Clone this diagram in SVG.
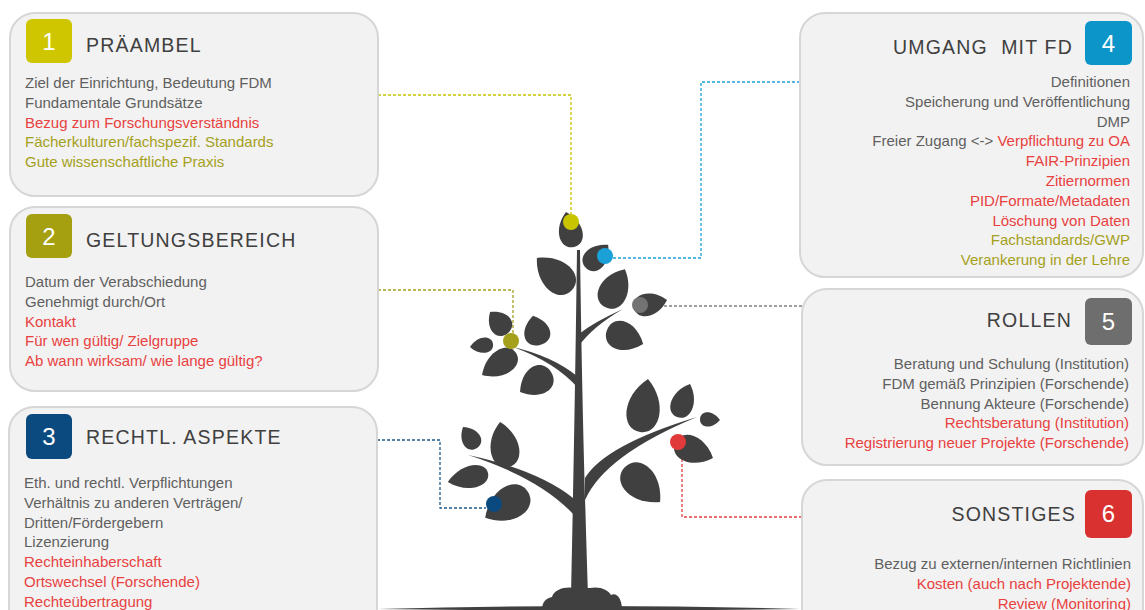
<svg xmlns="http://www.w3.org/2000/svg" xmlns:xlink="http://www.w3.org/1999/xlink" width="1145" height="610" viewBox="0 0 1145 610">
<defs>
<path id="leaf" d="M0,0 C0,-15 24,-18 40,0 C24,18 0,15 0,0Z"/>
<style>
.box{fill:#f2f2f2;stroke:#d6d6d6;stroke-width:2}
.badge-t{font-family:"Liberation Sans",Arial,sans-serif;font-size:24px;fill:#ffffff;text-anchor:middle}
.title{font-family:"Liberation Sans",Arial,sans-serif;font-size:19.5px;letter-spacing:1.2px;fill:#404040}
.body{font-family:"Liberation Sans",Arial,sans-serif;font-size:15px}
.r{text-anchor:end}
.g{fill:#5f5f5f}
.red{fill:#e8413f}
.ol{fill:#a5a01c}
.tree{fill:#404040}
.conn{fill:none;stroke-width:1.3;stroke-dasharray:3 2}
</style>
</defs>
<rect width="1145" height="610" fill="#ffffff"/>

<g id="connectors">
<path class="conn" stroke="#c8c400" d="M378,95 H571 V214"/>
<path class="conn" stroke="#a5a01c" d="M378,290 H513 V334"/>
<path class="conn" stroke="#1f5a8a" d="M377,440 H440 V508 H486"/>
<path class="conn" stroke="#1ba0d8" d="M800,82 H701 V258 H612"/>
<path class="conn" stroke="#808080" d="M802,306 H647"/>
<path class="conn" stroke="#e04040" d="M802,517 H682 V449"/>
</g>

<g id="tree" class="tree">
<path d="M378,609 Q590,603 800,609 Q590,612 378,609 Z"/>
<path d="M571,596 C573,500 575,400 577,250 L580,250 C582,400 585,500 588,596 Z"/>
<path d="M542,610 C542,601 547,598 552,597 C554,589 566,586 575,588 L590,588 C600,586 608,590 611,595 C617,592 622,599 622,610 Z"/>
<path d="M578,347 Q592,327 623,309 Q594,322 579,334 Z"/>
<path d="M578,388 Q555,362 513,347 Q552,356 577,376 Z"/>
<path d="M574,515 Q540,478 468,455 Q538,470 573,498 Z"/>
<path d="M585,500 Q605,455 697,417 Q605,445 585,478 Z"/>
<use href="#leaf" transform="translate(574 247) rotate(-102.9) scale(0.9 0.95)"/>
<use href="#leaf" transform="translate(586 268) rotate(-46.3) scale(0.8 0.9)"/>
<use href="#leaf" transform="translate(572 290) rotate(-137.6) scale(1.19 1.25)"/>
<use href="#leaf" transform="translate(605 307) rotate(-62.2) scale(1.07 1.15)"/>
<use href="#leaf" transform="translate(634 308) rotate(-13.6) scale(0.85 0.9)"/>
<use href="#leaf" transform="translate(607 330) rotate(21.3) scale(0.97 1.15)"/>
<use href="#leaf" transform="translate(508 333) rotate(-130.6) scale(0.69 0.9)"/>
<use href="#leaf" transform="translate(540 345) rotate(-103.6) scale(0.75 1.05)"/>
<use href="#leaf" transform="translate(493 344) rotate(172.6) scale(0.58 0.62)"/>
<use href="#leaf" transform="translate(516 353) rotate(147.1) scale(1.01 1.0)"/>
<use href="#leaf" transform="translate(551 372) rotate(147.2) scale(0.92 1.15)"/>
<use href="#leaf" transform="translate(640 432) rotate(-81.4) scale(1.34 1.33)"/>
<use href="#leaf" transform="translate(677 417) rotate(-68.5) scale(0.89 0.9)"/>
<use href="#leaf" transform="translate(700 419) rotate(2.9) scale(0.5 0.58)"/>
<use href="#leaf" transform="translate(675 443) rotate(21.5) scale(1.02 1.07)"/>
<use href="#leaf" transform="translate(625 467) rotate(45) scale(1.24 1.33)"/>
<use href="#leaf" transform="translate(477 448) rotate(-123.7) scale(0.63 0.75)"/>
<use href="#leaf" transform="translate(508 467) rotate(-100.1) scale(1.14 1.15)"/>
<use href="#leaf" transform="translate(488 473) rotate(167.3) scale(1.03 0.9)"/>
<use href="#leaf" transform="translate(528 492) rotate(148.9) scale(1.25 1.33)"/>
</g>

<g id="dots">
<circle cx="571" cy="222" r="8" fill="#c8c400"/>
<circle cx="511" cy="341" r="8" fill="#a5a01c"/>
<circle cx="494" cy="504" r="8" fill="#0b4a7e"/>
<circle cx="605" cy="256" r="8" fill="#1ba0d8"/>
<circle cx="640" cy="305" r="8" fill="#737373"/>
<circle cx="678" cy="442" r="8" fill="#e03a3a"/>
</g>

<g id="node1">
<rect class="box" x="10" y="13" width="368" height="183" rx="25"/>
<rect x="26" y="19" width="46" height="44" rx="6" fill="#cfc600"/>
<text class="badge-t" x="49" y="50">1</text>
<text class="title" x="86" y="52">PRÄAMBEL</text>
<text class="body g" x="25" y="88">Ziel der Einrichtung, Bedeutung FDM</text>
<text class="body g" x="25" y="107.8">Fundamentale Grundsätze</text>
<text class="body red" x="25" y="127.6">Bezug zum Forschungsverständnis</text>
<text class="body ol" x="25" y="147.4">Fächerkulturen/fachspezif. Standards</text>
<text class="body ol" x="25" y="167.2">Gute wissenschaftliche Praxis</text>
</g>

<g id="node2">
<rect class="box" x="10" y="207" width="368" height="184" rx="25"/>
<rect x="26" y="214" width="46" height="44" rx="6" fill="#a5a010"/>
<text class="badge-t" x="49" y="245">2</text>
<text class="title" x="86" y="247">GELTUNGSBEREICH</text>
<text class="body g" x="25" y="287">Datum der Verabschiedung</text>
<text class="body g" x="25" y="306.8">Genehmigt durch/Ort</text>
<text class="body red" x="25" y="326.6">Kontakt</text>
<text class="body red" x="25" y="346.4">Für wen gültig/ Zielgruppe</text>
<text class="body red" x="25" y="366.2">Ab wann wirksam/ wie lange gültig?</text>
</g>

<g id="node3">
<rect class="box" x="9" y="407" width="368" height="230" rx="25"/>
<rect x="26" y="414" width="46" height="45" rx="6" fill="#0b4a7e"/>
<text class="badge-t" x="49" y="445">3</text>
<text class="title" x="86" y="444">RECHTL. ASPEKTE</text>
<text class="body g" x="24" y="488">Eth. und rechtl. Verpflichtungen</text>
<text class="body g" x="24" y="507.8">Verhältnis zu anderen Verträgen/</text>
<text class="body g" x="24" y="527.6">Dritten/Fördergebern</text>
<text class="body g" x="24" y="547.4">Lizenzierung</text>
<text class="body red" x="24" y="567.2">Rechteinhaberschaft</text>
<text class="body red" x="24" y="587">Ortswechsel (Forschende)</text>
<text class="body red" x="24" y="606.8">Rechteübertragung</text>
</g>

<g id="node4">
<rect class="box" x="800" y="13" width="343" height="264" rx="25"/>
<rect x="1085" y="21" width="47" height="44" rx="6" fill="#0b95c8"/>
<text class="badge-t" x="1108.5" y="52">4</text>
<text class="title r" x="1073" y="54" xml:space="preserve">UMGANG  MIT FD</text>
<text class="body g r" x="1130" y="87">Definitionen</text>
<text class="body g r" x="1130" y="106.8">Speicherung und Veröffentlichung</text>
<text class="body g r" x="1130" y="126.6">DMP</text>
<text class="body r" x="1130" y="146.4"><tspan class="g">Freier Zugang &lt;-&gt; </tspan><tspan class="red">Verpflichtung zu OA</tspan></text>
<text class="body red r" x="1130" y="166.2">FAIR-Prinzipien</text>
<text class="body red r" x="1130" y="186">Zitiernormen</text>
<text class="body red r" x="1130" y="205.8">PID/Formate/Metadaten</text>
<text class="body red r" x="1130" y="225.6">Löschung von Daten</text>
<text class="body ol r" x="1130" y="245.4">Fachstandards/GWP</text>
<text class="body ol r" x="1130" y="265.2">Verankerung in der Lehre</text>
</g>

<g id="node5">
<rect class="box" x="802" y="289" width="341" height="176" rx="25"/>
<rect x="1085" y="298" width="47" height="47" rx="6" fill="#6e6e6e"/>
<text class="badge-t" x="1108.5" y="330">5</text>
<text class="title r" x="1072" y="327">ROLLEN</text>
<text class="body g r" x="1129" y="369">Beratung und Schulung (Institution)</text>
<text class="body g r" x="1129" y="388.8">FDM gemäß Prinzipien (Forschende)</text>
<text class="body g r" x="1129" y="408.6">Bennung Akteure (Forschende)</text>
<text class="body red r" x="1129" y="428.4">Rechtsberatung (Institution)</text>
<text class="body red r" x="1129" y="448.2">Registrierung neuer Projekte (Forschende)</text>
</g>

<g id="node6">
<rect class="box" x="802" y="480" width="341" height="160" rx="25"/>
<rect x="1085" y="490" width="47" height="48" rx="6" fill="#d93030"/>
<text class="badge-t" x="1108.5" y="522">6</text>
<text class="title r" x="1076" y="521">SONSTIGES</text>
<text class="body g r" x="1131" y="569">Bezug zu externen/internen Richtlinien</text>
<text class="body red r" x="1131" y="588.8">Kosten (auch nach Projektende)</text>
<text class="body red r" x="1131" y="608.6">Review (Monitoring)</text>
</g>
</svg>
